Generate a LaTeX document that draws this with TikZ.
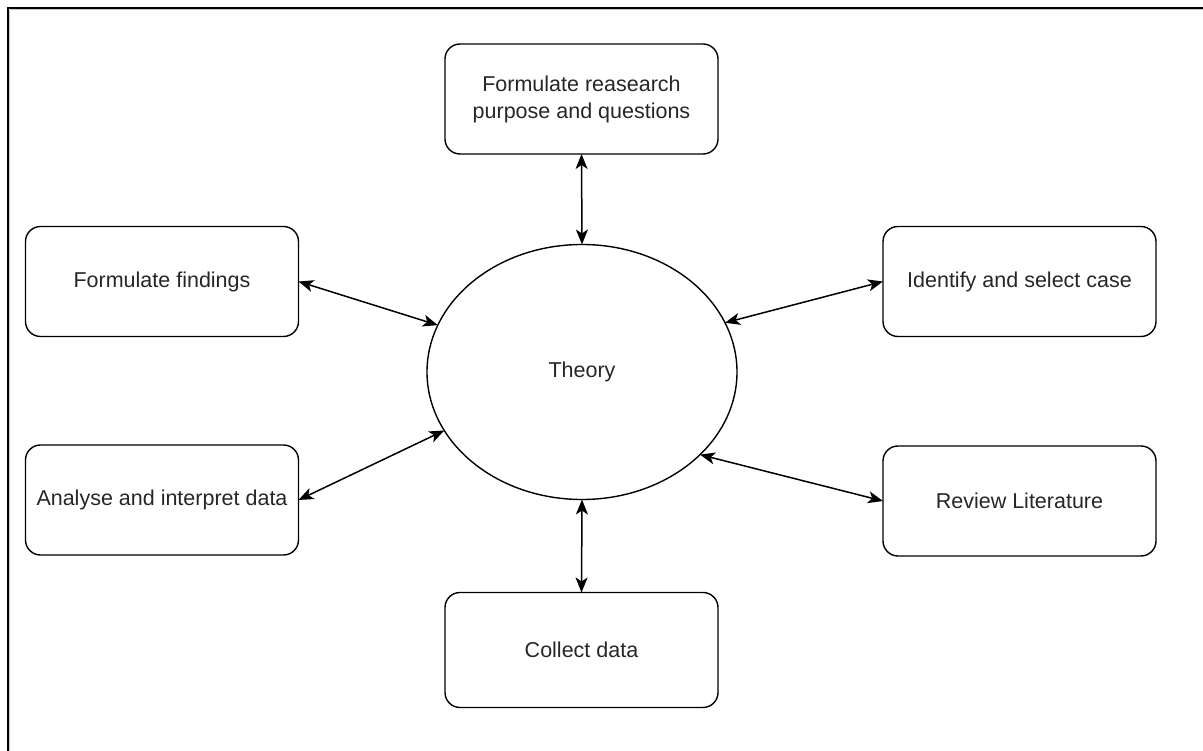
\documentclass[tikz,border=0pt]{standalone}
\usepackage{fontspec}
\setmainfont{Liberation Sans}
\usetikzlibrary{shapes.geometric,arrows.meta}
\definecolor{txt}{HTML}{262626}
\definecolor{frameshade}{HTML}{C8C8C8}
\begin{document}
\begin{tikzpicture}[x=1pt,y=-1pt,
  stepbox/.style={draw=black,line width=1.4pt,rounded corners=15pt,
    minimum width=273pt,minimum height=110pt,inner sep=0pt,outer sep=0pt,
    align=center,text=txt,font=\fontsize{21.5}{27}\selectfont},
  hub/.style={draw=black,line width=1.4pt,ellipse,minimum width=310pt,
    minimum height=255pt,inner sep=0pt,outer sep=0pt,text=txt,
    font=\fontsize{21.5}{27}\selectfont},
  link/.style={line width=1.5pt,
    {Stealth[length=15pt,width=12pt,inset=4pt]}-{Stealth[length=15pt,width=12pt,inset=4pt]}}]
  \useasboundingbox (0,0) rectangle (1203,751);
  % page frame (only top and left edges fall inside)
  \coordinate (fo) at (8,8);
  \coordinate (fr) at (1203,8);
  \coordinate (fb) at (8,751);
  \draw[frameshade,line width=1pt] (9.8,9.8) -- (1203,9.8);
  \draw[frameshade,line width=1pt] (9.8,9.8) -- (9.8,751);
  \draw[black,line width=2.2pt] (fb) -- (fo) -- (fr);

  % central theory ellipse
  \node[hub] (th) at (582,372) {Theory};

  % surrounding steps
  \node[stepbox] (rq) at (581.5,99) {Formulate reasearch\\purpose and questions};
  \node[stepbox] (ff) at (162,281.5) {Formulate findings};
  \node[stepbox] (ic) at (1019.5,281.5) {Identify and select case};
  \node[stepbox] (ad) at (162,500) {Analyse and interpret data};
  \node[stepbox] (rl) at (1019.5,501) {Review Literature};
  \node[stepbox,minimum height=115pt] (cd) at (581.5,650) {Collect data};

  % two-way links between theory and each step
  \draw[link] (rq.south) -- (th.north);
  \draw[link] (th.south) -- (cd.north);
  \draw[link] (ff.east) -- (th.162.8);
  \draw[link] (ad.east) -- (th.203.3);
  \draw[link] (th.19.7) -- (ic.west);
  \draw[link] (th.325.3) -- (rl.west);
\end{tikzpicture}
\end{document}
